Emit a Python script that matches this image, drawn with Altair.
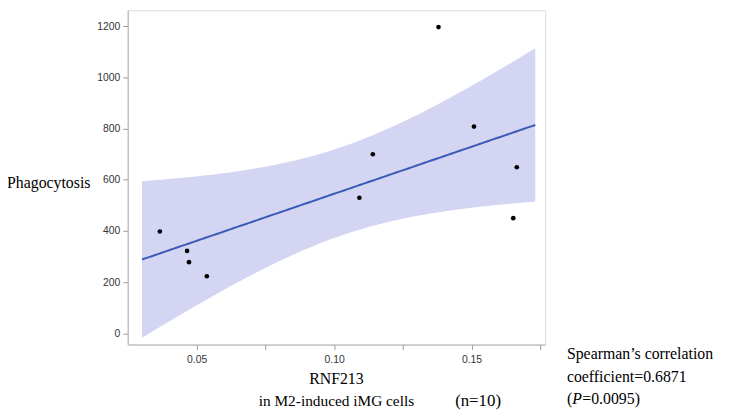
import altair as alt
import numpy as np
import pandas as pd

# data
rnf213 = [0.0366, 0.0465, 0.0472, 0.0537, 0.1380, 0.1509, 0.1141, 0.1665, 0.1092, 0.1652]
phago = [398, 322, 278, 223, 1197, 808, 700, 649, 530, 450]
x_ticks = [0.05, 0.075, 0.10, 0.125, 0.15, 0.175]
y_ticks = [0, 200, 400, 600, 800, 1000, 1200]
fit_range = [0.0301, 0.1732]
t_crit = 2.306  # t(0.975, df=8)

df = pd.DataFrame({"x": rnf213, "y": phago})

# OLS fit with 95% confidence band for the mean
x = np.array(rnf213)
y = np.array(phago, dtype=float)
n = len(x)
xbar = x.mean()
sxx = ((x - xbar) ** 2).sum()
slope = ((x - xbar) * (y - y.mean())).sum() / sxx
inter = y.mean() - slope * xbar
s = np.sqrt(((y - (inter + slope * x)) ** 2).sum() / (n - 2))
xs = np.linspace(fit_range[0], fit_range[1], 100)
fit = inter + slope * xs
se = s * np.sqrt(1 / n + (xs - xbar) ** 2 / sxx)
band = pd.DataFrame({"x": xs, "fit": fit, "lo": fit - t_crit * se, "hi": fit + t_crit * se})

xscale = alt.Scale(domain=[0.0249, 0.1768], nice=False, zero=False)
yscale = alt.Scale(domain=[-44, 1263], nice=False, zero=False)

xaxis = alt.Axis(values=x_ticks, labelExpr="indexof([0.05,0.1,0.15], datum.value) >= 0 ? format(datum.value, '.2f') : ''",
                 title=None, grid=False, tickSize=5, labelFont="Liberation Sans", labelFontSize=10.5,
                 labelColor="#333333", tickColor="#999999", domainColor="#b0b0b0", labelPadding=5)
yaxis = alt.Axis(values=y_ticks, format="d", title=None, grid=False, tickSize=5, labelFont="Liberation Sans",
                 labelFontSize=10.5, labelColor="#333333", tickColor="#999999", domainColor="#b0b0b0", labelPadding=3)

area = alt.Chart(band).mark_area(color="#d3d5f3", opacity=1).encode(
    x=alt.X("x:Q", scale=xscale, axis=xaxis),
    y=alt.Y("lo:Q", scale=yscale, axis=yaxis),
    y2="hi:Q",
)
line = alt.Chart(band).mark_line(color="#3a5bb5", strokeWidth=2).encode(
    x=alt.X("x:Q", scale=xscale), y=alt.Y("fit:Q", scale=yscale)
)
pts = alt.Chart(df).mark_circle(color="black", size=22, opacity=1).encode(
    x=alt.X("x:Q", scale=xscale), y=alt.Y("y:Q", scale=yscale)
)

serif = "Liberation Serif"


def label(txt, px, py, align="left", style="normal", size=16):
    return alt.Chart(pd.DataFrame({"t": [txt]})).mark_text(
        font=serif, fontSize=size, color="black", align=align, baseline="middle", fontStyle=style
    ).encode(text="t:N", x=alt.value(px), y=alt.value(py))


texts = [
    label("Phagocytosis", -122, 175),
    label("RNF213", 211, 373, align="center"),
    label("in M2-induced iMG cells", 211, 395, align="center", size=15.5),
    label("(n=10)", 331, 395, size=17),
    label("Spearman\u2019s correlation", 444, 348),
    label("coefficient=0.6871", 444, 371),
    label("(", 444, 393),
    label("P", 449.5, 393, style="italic"),
    label("=0.0095)", 459.5, 393),
]

chart = alt.layer(area, line, pts, *texts).properties(
    width=422, height=338,
    autosize=alt.AutoSizeParams(type="none"),
    padding={"left": 121, "top": 0, "right": 199, "bottom": 67},
).configure_view(stroke="#b0b0b0", strokeWidth=1.5).configure(background="white")

chart.save("out.html", embed_options={"renderer": "svg", "actions": False})
